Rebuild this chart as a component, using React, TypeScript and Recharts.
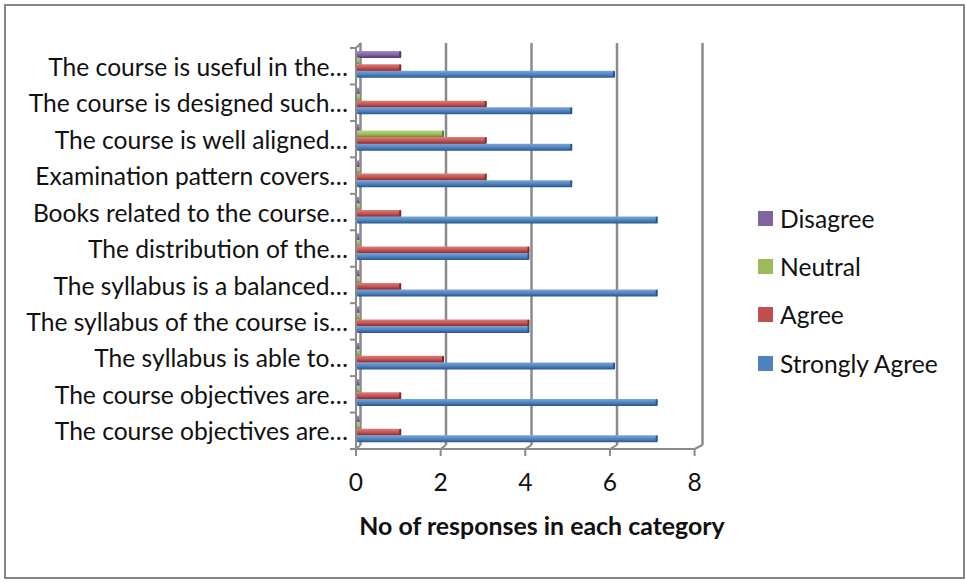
import { Bar, BarChart, CartesianGrid, Legend, XAxis, YAxis } from "recharts"

const categories = [
  "The course is useful in the…",
  "The course is designed such…",
  "The course is well aligned…",
  "Examination pattern covers…",
  "Books related to the course…",
  "The distribution of the…",
  "The syllabus is a balanced…",
  "The syllabus of the course is…",
  "The syllabus is able to…",
  "The course objectives are…",
  "The course objectives are…",
]
const disagree = [1, 0, 0, 0, 0, 0, 0, 0, 0, 0, 0]
const neutral = [0, 0, 2, 0, 0, 0, 0, 0, 0, 0, 0]
const agree = [1, 3, 3, 3, 1, 4, 1, 4, 2, 1, 1]
const stronglyAgree = [6, 5, 5, 5, 7, 4, 7, 4, 6, 7, 7]
const xTicks = [0, 2, 4, 6, 8]

const chartData = categories.map((name, i) => ({
  id: i,
  name,
  disagree: disagree[i],
  neutral: neutral[i],
  agree: agree[i],
  stronglyAgree: stronglyAgree[i],
}))

const seriesList = [
  { key: "disagree", label: "Disagree", color: "#8064A2", light: "#a58ac6", dark: "#4f3a6b" },
  { key: "neutral", label: "Neutral", color: "#9BBB59", light: "#bcd67f", dark: "#62792f" },
  { key: "agree", label: "Agree", color: "#C0504D", light: "#dc7f7c", dark: "#7f2a28" },
  { key: "stronglyAgree", label: "Strongly Agree", color: "#4F81BD", light: "#7aa5da", dark: "#2a5588" },
]

const FONT = "Lato, Carlito, sans-serif"
const TEXT_SIZE = 24.6
const GRID = "#8a8a8a"
const PLOT_TOP = 46
const PLOT_BOTTOM = 447
const BAND = (PLOT_BOTTOM - PLOT_TOP) / categories.length
const PLOT_LEFT = 357

function BarShape(props: any) {
  const { x, y, width, height, gradient, dark } = props
  if (width < 1) {
    // empty series still leave a small stub on the wall
    return <rect x={x} y={y} width={2.5} height={height} fill={`url(#${gradient})`} rx={1} />
  }
  return (
    <g>
      <rect x={x} y={y} width={width + 0.5} height={height} fill={`url(#${gradient})`} rx={1} />
      <rect x={x + width - 0.5} y={y} width={2} height={height} fill={dark} rx={1} />
    </g>
  )
}

function CategoryTick(props: any) {
  const { y, payload, index } = props
  const top = y - BAND / 2 + 2
  const bottom = y + BAND / 2 + 2
  return (
    <g>
      <text x={348} y={y + 3} dy="0.35em" textAnchor="end" fontSize={TEXT_SIZE} fontFamily={FONT} fill="#111">
        {payload.value}
      </text>
      <line x1={356} x2={356} y1={top} y2={bottom} stroke={GRID} strokeWidth={2} />
      <line x1={350} x2={356} y1={bottom} y2={bottom} stroke={GRID} strokeWidth={2} />
      {index === 0 && (
        <>
          <line x1={350} x2={356} y1={top} y2={top} stroke={GRID} strokeWidth={2} />
          <line x1={356} x2={361} y1={top} y2={top - 5} stroke={GRID} strokeWidth={2} />
        </>
      )}
    </g>
  )
}

function ValueTick(props: any) {
  const { x, payload, index } = props
  // front edge of the 3D floor sits slightly tighter than the back wall
  const front = 356 + (x - PLOT_LEFT) * 0.99
  const next = 356 + (x + 85.25 - PLOT_LEFT) * 0.99
  return (
    <g>
      <line x1={front} x2={front} y1={449} y2={456} stroke={GRID} strokeWidth={2} />
      <line x1={front} x2={x + 3.5} y1={449} y2={445} stroke={GRID} strokeWidth={2} />
      {index < xTicks.length - 1 && <line x1={front} x2={next} y1={449} y2={449} stroke={GRID} strokeWidth={2} />}
      <text x={front} y={482} dy="0.35em" textAnchor="middle" fontSize={TEXT_SIZE} fontFamily={FONT} fill="#111">
        {payload.value}
      </text>
    </g>
  )
}

function WallLine(props: any) {
  const { x1 } = props
  return <line x1={x1 + 3.5} x2={x1 + 3.5} y1={43} y2={445} stroke={GRID} strokeWidth={2.5} />
}

function LegendBlock() {
  return (
    <div
      style={{
        position: "absolute",
        left: 758,
        top: 194,
        fontFamily: FONT,
        fontSize: TEXT_SIZE,
        color: "#111",
        whiteSpace: "nowrap",
      }}
    >
      {seriesList.map((s) => (
        <div key={s.key} style={{ display: "flex", alignItems: "center", height: 48.3 }}>
          <span style={{ width: 15, height: 15, background: s.color, marginRight: 7, flex: "none" }} />
          <span>{s.label}</span>
        </div>
      ))}
    </div>
  )
}

export default function App() {
  return (
    <div style={{ position: "absolute", left: 0, top: 0, width: 966, height: 582, background: "#fff" }}>
      <div
        style={{
          position: "absolute",
          left: 4,
          top: 4,
          width: 961,
          height: 575,
          border: "2px solid #868686",
          boxSizing: "border-box",
        }}
      />
      <BarChart
        width={966}
        height={582}
        data={chartData}
        layout="vertical"
        margin={{ top: PLOT_TOP, bottom: 75, left: 17, right: 267 }}
        barSize={7}
        barGap={-0.4}
        style={{ position: "absolute", left: 0, top: 0 }}
      >
        <defs>
          {seriesList.map((s) => (
            <linearGradient key={s.key} id={`grad-${s.key}`} x1="0" y1="0" x2="0" y2="1">
              <stop offset="0%" stopColor={s.light} />
              <stop offset="55%" stopColor={s.color} />
              <stop offset="100%" stopColor={s.dark} />
            </linearGradient>
          ))}
        </defs>
        <CartesianGrid horizontal={false} vertical={WallLine} verticalValues={xTicks} />
        <XAxis
          type="number"
          domain={[0, 8]}
          ticks={xTicks}
          height={60}
          axisLine={false}
          tickLine={false}
          tick={ValueTick}
          interval={0}
          label={{
            value: "No of responses in each category",
            position: "insideBottom",
            offset: -28,
            dx: 14,
            fontFamily: FONT,
            fontSize: 24.9,
            fontWeight: 700,
            fill: "#111",
          }}
        />
        <YAxis
          type="category"
          dataKey="name"
          width={340}
          axisLine={false}
          tickLine={false}
          tick={CategoryTick}
          interval={0}
        />
        <Legend content={LegendBlock} wrapperStyle={{ position: "absolute", left: 0, top: 0, width: 0, height: 0 }} />
        {seriesList.map((s) => (
          <Bar
            key={s.key}
            dataKey={s.key}
            name={s.label}
            fill={s.color}
            isAnimationActive={false}
            shape={(p: any) => <BarShape {...p} gradient={`grad-${s.key}`} dark={s.dark} />}
          />
        ))}
      </BarChart>
    </div>
  )
}
